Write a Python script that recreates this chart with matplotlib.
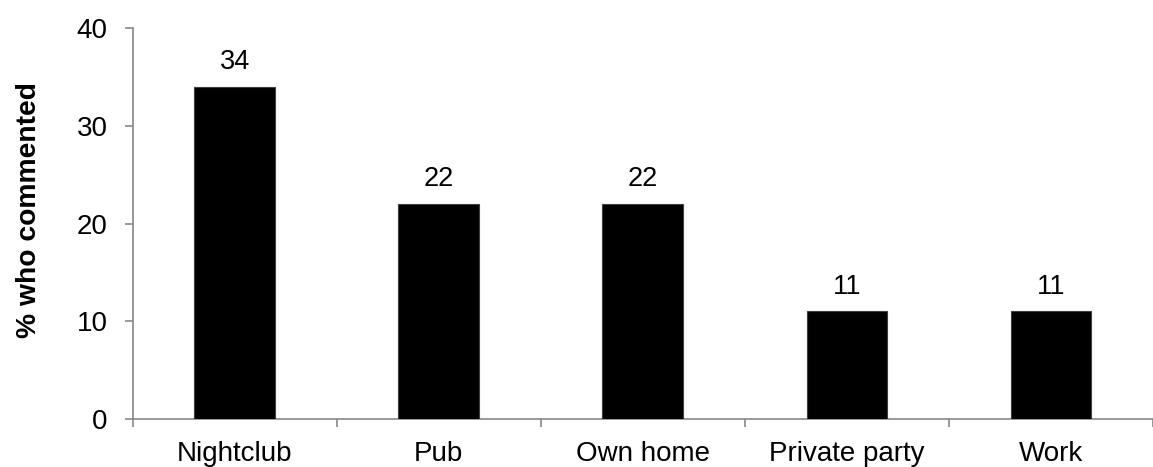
import matplotlib
matplotlib.use("Agg")
import matplotlib.pyplot as plt

categories = ["Nightclub", "Pub", "Own home", "Private party", "Work"]
values = [34, 22, 22, 11, 11]
y_ticks = [0, 10, 20, 30, 40]

plt.rcParams["font.family"] = ["Liberation Sans", "DejaVu Sans"]

W, H = 1153, 467
fig = plt.figure(figsize=(W / 100, H / 100), dpi=100)
left, right, top, bottom = 132.5, 1153, 28, 419
ax = fig.add_axes([left / W, (H - bottom) / H, (right - left) / W, (bottom - top) / H])

x = list(range(len(categories)))
ax.bar(x, values, width=0.395, color="black", edgecolor="#404040", linewidth=0.8, zorder=3)

for xi, v in zip(x, values):
    ax.annotate(f"{v}", (xi, v), xytext=(0, 8.5), textcoords="offset points",
                ha="center", va="bottom", fontsize=19.5, color="black")

ax.set_xlim(-0.5, 4.464)
ax.set_ylim(0, 40)
ax.set_yticks(y_ticks)
ax.set_yticklabels([str(t) for t in y_ticks], fontsize=20)

# category labels centred under bars, tick marks between categories
ax.set_xticks(x)
ax.set_xticklabels(categories, fontsize=20)
ax.tick_params(axis="x", which="major", length=0, pad=16)
ax.set_xticks([i + 0.5 for i in range(-1, len(categories))], minor=True)
ax.tick_params(axis="x", which="minor", length=6, width=1.2, color="#888888", direction="out")
ax.tick_params(axis="y", length=6, width=1.2, color="#888888", direction="out", pad=12)

for side in ("top", "right"):
    ax.spines[side].set_visible(False)
for side in ("left", "bottom"):
    ax.spines[side].set_color("#888888")
    ax.spines[side].set_linewidth(1.2)

ax.set_ylabel("% who commented", fontsize=20.3, fontweight="bold")
ax.yaxis.set_label_coords(-0.089, 0.535)

fig.savefig("out.png", dpi=100)
